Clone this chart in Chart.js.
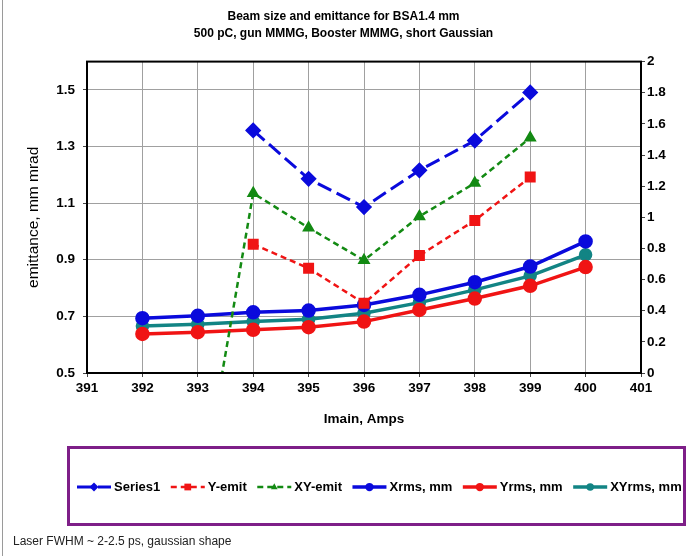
<!DOCTYPE html>
<html>
<head>
<meta charset="utf-8">
<script src="https://cdn.jsdelivr.net/npm/chart.js@4.4.1/dist/chart.umd.min.js"></script>
<style>
  html, body { margin: 0; padding: 0; background: #fff; }
  #wrap { width: 687px; height: 556px; }
</style>
</head>
<body>
<div id="wrap"><canvas id="beamChart" width="687" height="556"></canvas></div>
<script>
// values
const imain = [392, 393, 394, 395, 396, 397, 398, 399, 400];
const series1 = [null, null, 1.357, 1.186, 1.086, 1.216, 1.321, 1.491, null];
const yEmit = [null, null, 0.955, 0.870, 0.746, 0.915, 1.039, 1.192, null];
const xyEmit = [null, 0, 1.135, 1.013, 0.898, 1.053, 1.171, 1.331, null];
const xRms = [0.352, 0.367, 0.390, 0.401, 0.437, 0.502, 0.583, 0.684, 0.845];
const yRms = [0.251, 0.262, 0.277, 0.294, 0.330, 0.405, 0.478, 0.560, 0.680];
const xyRms = [0.302, 0.313, 0.330, 0.345, 0.384, 0.452, 0.534, 0.624, 0.759];

const seriesNames = ["Series1", "Y-emit", "XY-emit", "Xrms, mm", "Yrms, mm", "XYrms, mm"];
const xTicks = [391, 392, 393, 394, 395, 396, 397, 398, 399, 400, 401];
const leftTicks = [0.5, 0.7, 0.9, 1.1, 1.3, 1.5];
const rightTicks = [0, 0.2, 0.4, 0.6, 0.8, 1, 1.2, 1.4, 1.6, 1.8, 2];

const titleLines = ["Beam size and emittance for BSA1.4 mm", "500 pC, gun MMMG, Booster MMMG, short Gaussian"];
const footNote = "Laser FWHM ~ 2-2.5 ps, gaussian shape";

const FONT = "'Liberation Sans', Arial, Helvetica, sans-serif";
Chart.defaults.font.family = FONT;
Chart.defaults.color = "#000";

const pts = arr => imain.map((x, i) => ({ x: x, y: arr[i] }));
const fmt = v => String(+Number(v).toFixed(1));
const useTicks = list => scale => { scale.ticks = list.map(v => ({ value: v })); };

const BLUE = "#0a0adc", RED = "#f01414", GREEN = "#138a13", TEAL = "#128484";

function drawMarker(ctx, style, x, y, r) {
    ctx.beginPath();
    if (style === "rectRot") {
        ctx.moveTo(x, y - r); ctx.lineTo(x + r, y); ctx.lineTo(x, y + r); ctx.lineTo(x - r, y);
    } else if (style === "rect") {
        const s = r * 0.75;
        ctx.rect(x - s, y - s, s * 2, s * 2);
    } else if (style === "triangle") {
        ctx.moveTo(x, y - r); ctx.lineTo(x + r * 0.9, y + r * 0.6); ctx.lineTo(x - r * 0.9, y + r * 0.6);
    } else {
        ctx.arc(x, y, r, 0, Math.PI * 2);
    }
    ctx.closePath();
    ctx.fill();
}

// legend box, frame top line, footnote
const decorations = {
    id: "decorations",
    beforeDraw(chart) {
        const ctx = chart.ctx;
        ctx.save();
        ctx.fillStyle = "#fff";
        ctx.fillRect(0, 0, chart.width, chart.height);
        ctx.restore();
    },
    afterDraw(chart) {
        const ctx = chart.ctx;
        const a = chart.chartArea;
        ctx.save();

        // plot frame
        ctx.strokeStyle = "#000";
        ctx.lineWidth = 2;
        ctx.strokeRect(a.left, a.top, a.right - a.left, a.bottom - a.top);

        // outer page line on the left
        ctx.strokeStyle = "#9a9a9a";
        ctx.lineWidth = 1;
        ctx.beginPath();
        ctx.moveTo(2.5, 0); ctx.lineTo(2.5, chart.height);
        ctx.stroke();

        // legend box
        ctx.strokeStyle = "#7e1f88";
        ctx.lineWidth = 3;
        ctx.strokeRect(68.5, 447.5, 616, 77);

        // legend items
        const cy = 487;
        let x = 77;
        ctx.font = "bold 13px " + FONT;
        ctx.textBaseline = "middle";
        chart.data.datasets.forEach(ds => {
            const len = 34;
            ctx.strokeStyle = ds.borderColor;
            ctx.fillStyle = ds.borderColor;
            ctx.lineWidth = ds.borderWidth;
            ctx.setLineDash(ds.borderDash || []);
            ctx.beginPath();
            ctx.moveTo(x, cy); ctx.lineTo(x + len, cy);
            ctx.stroke();
            ctx.setLineDash([]);
            drawMarker(ctx, ds.pointStyle, x + len / 2, cy, ds.pointRadius * 0.75);
            ctx.fillStyle = "#000";
            ctx.fillText(ds.label, x + len + 3, cy);
            x += len + 3 + ctx.measureText(ds.label).width + 10.5;
        });

        // footnote
        ctx.font = "12px " + FONT;
        ctx.fillStyle = "#222";
        ctx.fillText(footNote, 13, 542);
        ctx.restore();
    }
};

new Chart(document.getElementById("beamChart"), {
    type: "line",
    data: {
        datasets: [
            {
                label: seriesNames[0], data: pts(series1), yAxisID: "y",
                borderColor: BLUE, backgroundColor: BLUE, borderWidth: 3, borderDash: [15, 6],
                pointStyle: "rectRot", pointRadius: 6, pointBackgroundColor: BLUE, pointBorderColor: BLUE
            },
            {
                label: seriesNames[1], data: pts(yEmit), yAxisID: "y",
                borderColor: RED, backgroundColor: RED, borderWidth: 2.5, borderDash: [6, 4],
                pointStyle: "rect", pointRadius: 6, pointBackgroundColor: RED, pointBorderColor: RED
            },
            {
                label: seriesNames[2], data: pts(xyEmit), yAxisID: "y",
                borderColor: GREEN, backgroundColor: GREEN, borderWidth: 2.5, borderDash: [6, 4],
                pointStyle: "triangle", pointRadius: 5, pointBackgroundColor: GREEN, pointBorderColor: GREEN
            },
            {
                label: seriesNames[3], data: pts(xRms), yAxisID: "y1",
                borderColor: BLUE, backgroundColor: BLUE, borderWidth: 3.5,
                pointStyle: "circle", pointRadius: 5.5, pointBackgroundColor: BLUE, pointBorderColor: BLUE
            },
            {
                label: seriesNames[4], data: pts(yRms), yAxisID: "y1",
                borderColor: RED, backgroundColor: RED, borderWidth: 3.5,
                pointStyle: "circle", pointRadius: 5.5, pointBackgroundColor: RED, pointBorderColor: RED
            },
            {
                label: seriesNames[5], data: pts(xyRms), yAxisID: "y1",
                borderColor: TEAL, backgroundColor: TEAL, borderWidth: 3.5,
                pointStyle: "circle", pointRadius: 5, pointBackgroundColor: TEAL, pointBorderColor: TEAL
            }
        ]
    },
    options: {
        responsive: false,
        animation: false,
        events: [],
        layout: { padding: { top: 0, left: 0, right: 0, bottom: 128 } },
        plugins: {
            legend: { display: false },
            tooltip: { enabled: false },
            title: {
                display: true,
                text: titleLines,
                color: "#000",
                font: { size: 12, weight: "bold", lineHeight: 1.4 },
                padding: { top: 8, bottom: 20 }
            }
        },
        scales: {
            x: {
                type: "linear",
                min: 391, max: 401,
                afterBuildTicks: useTicks(xTicks),
                afterFit: s => { s.height = 55; },
                ticks: { font: { size: 13.5, weight: "bold" }, color: "#000", padding: 3, maxRotation: 0, autoSkip: false, callback: v => String(v) },
                grid: { color: "#a0a0a0", lineWidth: 1, tickLength: 4, tickColor: "#444" },
                border: { color: "#000", width: 2 },
                title: { display: true, text: "Imain, Amps", color: "#000", font: { size: 13.5, weight: "bold" }, padding: { top: 0, bottom: 1 } }
            },
            y: {
                position: "left",
                min: 0.5, max: 1.6,
                afterBuildTicks: useTicks(leftTicks),
                afterFit: s => { s.width = 87; },
                ticks: { font: { size: 13.5, weight: "bold" }, color: "#000", padding: 8, callback: fmt },
                grid: { color: "#a0a0a0", lineWidth: 1, tickLength: 4, tickColor: "#444" },
                border: { color: "#000", width: 2 },
                title: { display: true, text: "emittance, mm mrad", color: "#000", font: { size: 15.5 }, padding: { top: 24, bottom: 0 } }
            },
            y1: {
                position: "right",
                min: 0, max: 2,
                afterBuildTicks: useTicks(rightTicks),
                afterFit: s => { s.width = 46; },
                ticks: { font: { size: 13.5, weight: "bold" }, color: "#000", padding: 2, callback: fmt },
                grid: { drawOnChartArea: false, tickLength: 4, tickColor: "#444" },
                border: { color: "#000", width: 2 }
            }
        }
    },
    plugins: [decorations]
});
</script>
</body>
</html>
